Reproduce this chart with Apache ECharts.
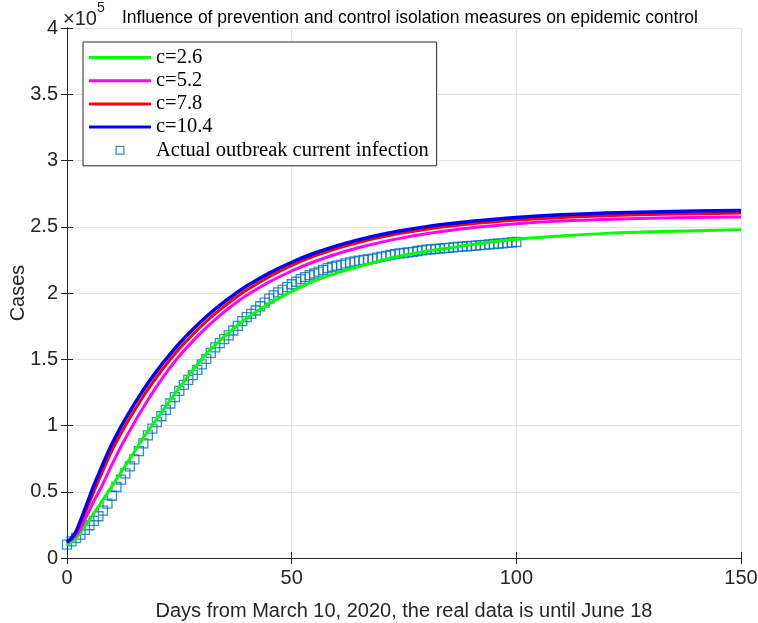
<!DOCTYPE html>
<html>
<head>
<meta charset="utf-8">
<script src="https://cdn.jsdelivr.net/npm/echarts@6/dist/echarts.min.js"></script>
<style>
html,body{margin:0;padding:0;background:#fff;}
#chart{width:758px;height:623px;}
</style>
</head>
<body>
<div id="chart"></div>
<script>
// Model curves (units of 10^5 cases), sampled at these days
const modelDays = [0,1,2,3,4,5,6,8,10,12,14,16,18,20,22,25,28,31,34,37,40,45,50,55,60,65,70,75,80,85,90,100,110,120,130,140,150];
const c26  = [0.10,0.12,0.15,0.19,0.24,0.29,0.34,0.44,0.54,0.645,0.75,0.855,0.955,1.05,1.145,1.285,1.42,1.54,1.64,1.73,1.81,1.92,2.01,2.09,2.15,2.20,2.245,2.285,2.315,2.34,2.365,2.405,2.43,2.45,2.462,2.47,2.477];
const c52  = [0.12,0.14,0.17,0.22,0.29,0.36,0.43,0.56,0.705,0.84,0.962,1.081,1.193,1.297,1.394,1.524,1.637,1.739,1.829,1.911,1.983,2.083,2.166,2.236,2.294,2.343,2.384,2.418,2.447,2.471,2.492,2.523,2.543,2.555,2.564,2.570,2.573];
const c78  = [0.12,0.145,0.19,0.26,0.34,0.42,0.505,0.66,0.81,0.94,1.057,1.168,1.272,1.368,1.457,1.579,1.687,1.785,1.872,1.951,2.022,2.123,2.208,2.278,2.335,2.383,2.422,2.454,2.481,2.503,2.522,2.55,2.57,2.583,2.592,2.599,2.603];
const c104 = [0.12,0.15,0.20,0.28,0.37,0.46,0.55,0.71,0.86,0.99,1.107,1.216,1.318,1.412,1.499,1.619,1.725,1.821,1.906,1.983,2.052,2.150,2.232,2.300,2.356,2.403,2.442,2.474,2.501,2.523,2.542,2.570,2.590,2.603,2.612,2.619,2.623];
// Actual outbreak data, day 0..100 (units of 10^5 cases)
const actual = [0.101,0.125,0.151,0.177,0.212,0.247,0.280,0.315,0.357,0.410,
0.470,0.536,0.591,0.639,0.692,0.744,0.806,0.865,0.925,0.977,
1.025,1.070,1.118,1.166,1.214,1.262,1.307,1.345,1.380,1.420,
1.462,1.503,1.548,1.590,1.622,1.652,1.680,1.717,1.752,1.787,
1.818,1.842,1.868,1.900,1.927,1.958,1.982,2.005,2.024,2.045,
2.066,2.085,2.104,2.120,2.134,2.147,2.161,2.175,2.188,2.198,
2.206,2.213,2.224,2.231,2.238,2.244,2.250,2.254,2.259,2.267,
2.274,2.280,2.287,2.293,2.299,2.302,2.306,2.311,2.317,2.322,
2.327,2.330,2.332,2.335,2.338,2.340,2.345,2.348,2.350,2.353,
2.356,2.358,2.361,2.363,2.367,2.370,2.373,2.375,2.378,2.382,2.385];
const seriesNames = ['c=2.6','c=5.2','c=7.8','c=10.4','Actual outbreak current infection'];
const xTicks = [0,50,100,150];
const yTicks = ['0','0.5','1','1.5','2','2.5','3','3.5','4'];

const pair = arr => arr.map((v,i)=>[modelDays[i], v]);
const actualPts = actual.map((v,i)=>[i, v]);

const axisColor = '#262626';
const lineIcon = 'path://M0 0H62V3H0Z';
const sqIcon = 'path://M0 0H10V10H0Z M1.4 1.4V8.6H8.6V1.4Z';

const chart = echarts.init(document.getElementById('chart'), null, {renderer:'canvas'});
const lineSeries = (name, data, color, w) => ({
  name, type:'line', data, smooth:0.3, symbol:'none', xAxisIndex:0, yAxisIndex:0,
  lineStyle:{color, width:w}, itemStyle:{color}, emphasis:{disabled:true}
});
chart.setOption({
  animation:false,
  backgroundColor:'#fff',
  title:[
    {text:'Influence of prevention and control isolation measures on epidemic control', left:117, top:4,
     textStyle:{fontFamily:'Liberation Sans', fontSize:17.5, fontWeight:'normal', color:'#000'}},
    {text:'{a|×10}{b|5}', left:58, top:-4,
     textStyle:{fontWeight:'normal', rich:{a:{fontFamily:'Liberation Sans', fontSize:20, fontWeight:'normal', color:axisColor, verticalAlign:'bottom', lineHeight:28},
                      b:{fontFamily:'Liberation Sans', fontSize:14, fontWeight:'normal', color:axisColor, verticalAlign:'top', lineHeight:28}}}}
  ],
  grid:{left:67, right:17, top:28, bottom:65, containLabel:false, outerBoundsMode:'none'},
  legend:{
    orient:'vertical', left:83, top:42, itemWidth:62, itemHeight:9, itemGap:2.2,
    padding:[5,8,5,6], borderColor:axisColor, borderWidth:1, backgroundColor:'#fff',
    textStyle:{fontFamily:'Liberation Serif', fontSize:20.5, color:'#000'},
    data:[
      {name:seriesNames[0], icon:lineIcon},
      {name:seriesNames[1], icon:lineIcon},
      {name:seriesNames[2], icon:lineIcon},
      {name:seriesNames[3], icon:lineIcon},
      {name:seriesNames[4], icon:sqIcon, itemStyle:{color:'#0072bd', borderWidth:0}}
    ],
    selectedMode:false
  },
  xAxis:[
    {type:'value', min:xTicks[0], max:xTicks[xTicks.length-1], interval:50, position:'bottom',
     name:'Days from March 10, 2020, the real data is until June 18', nameLocation:'middle', nameGap:43,
     nameTextStyle:{fontFamily:'Liberation Sans', fontSize:20, color:axisColor},
     axisLine:{show:true, lineStyle:{color:axisColor, width:1}},
     axisTick:{show:true, inside:true, length:6, lineStyle:{color:axisColor}},
     axisLabel:{fontFamily:'Liberation Sans', fontSize:20, color:axisColor, margin:10},
     splitLine:{show:true, lineStyle:{color:'#e3e3e3', width:1}}},
    {type:'value', min:xTicks[0], max:xTicks[xTicks.length-1], interval:50, position:'top',
     axisLine:{show:true, lineStyle:{color:axisColor, width:1}},
     axisTick:{show:true, inside:true, length:6, lineStyle:{color:axisColor}},
     axisLabel:{show:false}, splitLine:{show:false}}
  ],
  yAxis:[
    {type:'value', min:0, max:4, interval:0.5, position:'left',
     name:'Cases', nameLocation:'middle', nameGap:39, nameMoveOverlap:false,
     nameTextStyle:{fontFamily:'Liberation Sans', fontSize:20, color:axisColor},
     axisLine:{show:true, lineStyle:{color:axisColor, width:1}},
     axisTick:{show:true, inside:true, length:6, lineStyle:{color:axisColor}},
     axisLabel:{fontFamily:'Liberation Sans', fontSize:20, color:axisColor, margin:9,
       formatter:(v)=>yTicks[Math.round(v/0.5)]},
     splitLine:{show:true, lineStyle:{color:'#e3e3e3', width:1}}},
    {type:'value', min:0, max:4, interval:0.5, position:'right',
     axisLine:{show:true, lineStyle:{color:axisColor, width:1}},
     axisTick:{show:true, inside:true, length:6, lineStyle:{color:axisColor}},
     axisLabel:{show:false}, splitLine:{show:false}}
  ],
  series:[
    lineSeries(seriesNames[0], pair(c26), '#00ff00', 3),
    lineSeries(seriesNames[1], pair(c52), '#ff00ff', 3),
    lineSeries(seriesNames[2], pair(c78), '#ff0000', 3),
    lineSeries(seriesNames[3], pair(c104), '#0000ff', 3.5),
    {name:seriesNames[4], type:'scatter', data:actualPts, symbol:'rect', symbolSize:9,
     xAxisIndex:0, yAxisIndex:0,
     itemStyle:{color:'rgba(0,0,0,0)', borderColor:'#0072bd', borderWidth:1.3},
     emphasis:{disabled:true}}
  ]
});
</script>
</body>
</html>
